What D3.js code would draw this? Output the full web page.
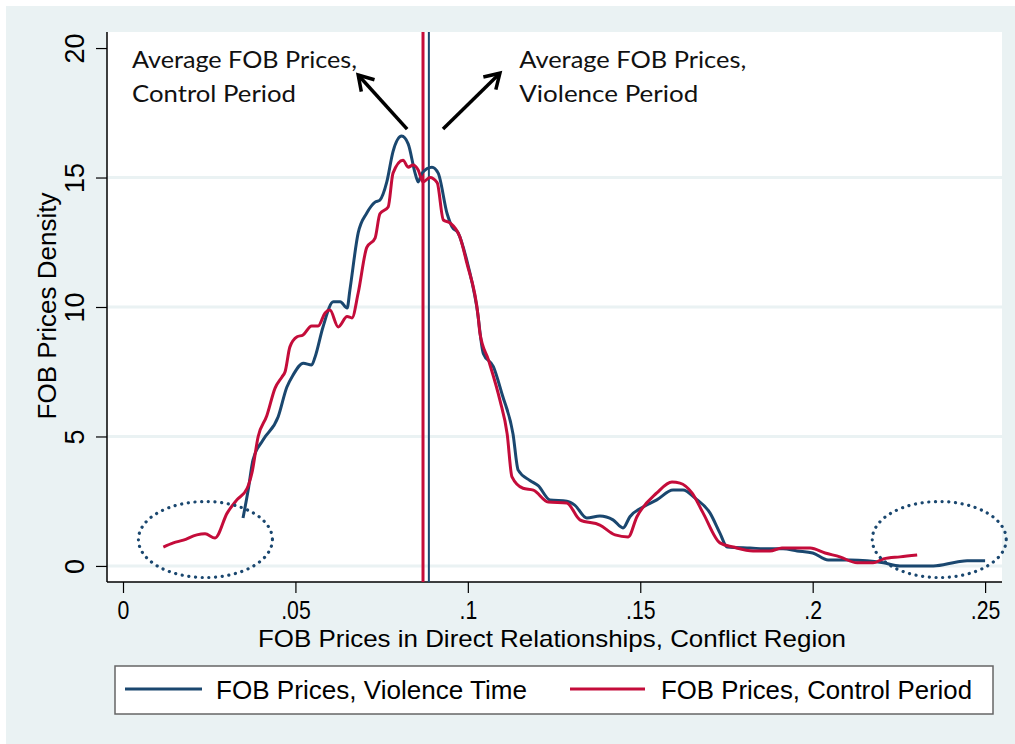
<!DOCTYPE html>
<meta charset="utf-8">
<head>
<script src="https://d3js.org/d3.v7.min.js"></script>
<style>
  body { margin: 0; background: #fff; }
  text { font-family: "Liberation Sans", Arial, sans-serif; fill: #000; }
  .note { font-family: Lato, "Open Sans", sans-serif; }
</style>
</head>
<body>
<div id="chart"></div>
<script>
  // kernel density of FOB prices, violence time (navy)
  const violenceX = [.0348,.0363,.0377,.0406,.045,.0475,.0493,.0523,.0547,.0557,.058,.061,.063,.065,.0658,.0682,.0707,.0731,.0745,.0765,.0783,.0808,.0827,.0847,.0856,.0867,.0896,.0914,.094,.0954,.0972,.0997,.1026,.1045,.1074,.110,.1131,.1146,.118,.1204,.1238,.1287,.131,.1345,.1383,.1421,.145,.147,.1508,.1548,.1595,.1624,.1659,.1702,.1731,.1752,.1818,.1876,.1914,.1955,.2,.2045,.2109,.2157,.2205,.2253,.235,.2418,.2448,.25];
  const violenceY = [1.85,2.93,4.1,4.86,5.76,6.9,7.37,7.83,7.76,8.07,9.23,10.2,10.2,9.96,10.66,12.86,13.63,14.05,14.13,14.83,16.0,16.6,16.3,15.17,14.83,15.17,15.4,15.17,13.6,13.1,12.86,11.8,10.0,8.2,7.7,6.6,5.1,3.7,3.3,3.1,2.55,2.5,2.35,1.85,1.93,1.78,1.47,1.9,2.28,2.55,2.93,2.93,2.62,2.05,1.27,0.73,0.69,0.66,0.66,0.58,0.5,0.23,0.23,0.2,0.12,0,0,0.15,0.2,0.2];

  // kernel density of FOB prices, control period (red)
  const controlX = [.0117,.0146,.0175,.0214,.0238,.0267,.0302,.033,.036,.0374,.0392,.0417,.0441,.0461,.047,.0484,.0505,.0522,.0547,.0566,.0586,.06,.0624,.065,.0664,.0682,.0707,.0731,.0745,.0769,.0783,.0812,.0827,.0841,.0856,.087,.089,.0911,.0929,.0948,.0977,.0997,.103,.1035,.106,.1093,.1114,.1128,.116,.119,.1233,.1287,.1325,.1383,.1427,.1465,.149,.1548,.1592,.1615,.165,.1682,.1731,.177,.1827,.1876,.1911,.1993,.2036,.2079,.2129,.2175,.2205,.2253,.2303];
  const controlY = [0.73,0.89,1.0,1.2,1.24,1.08,2.04,2.55,3.0,3.6,5.0,5.8,6.87,7.3,7.5,8.46,8.85,8.92,9.27,9.27,9.77,9.88,9.23,9.63,9.58,10.54,12.3,12.66,13.6,13.86,15.17,15.67,15.4,15.48,15.29,14.83,15.0,14.8,13.36,13.25,12.7,11.7,9.63,9.0,7.95,6.4,5.1,3.44,3.0,2.93,2.47,2.43,1.78,1.58,1.2,1.12,1.89,2.82,3.24,3.2,2.82,2.05,0.89,0.73,0.58,0.58,0.69,0.69,0.5,0.35,0.12,0.12,0.27,0.35,0.42];

  // average prices (vertical lines)
  const meanControl = 0.0870;
  const meanViolence = 0.0887;

  const xTicks = [0, .05, .1, .15, .2, .25];
  const xTickLabels = ["0", ".05", ".1", ".15", ".2", ".25"];
  const yTicks = [0, 5, 10, 15, 20];
  const yGrid = [0, 5, 10, 15];

  const legendLabels = ["FOB Prices, Violence Time", "FOB Prices, Control Period"];
  const navy = "#1a476f", red = "#c40c3a", bg = "#eaf2f3";

  const W = 1015, H = 744;
  const plot = {left: 107, top: 32, right: 1002, bottom: 582};

  const svg = d3.select("#chart").append("svg")
      .attr("width", W).attr("height", H);

  svg.append("rect").attr("x", 6).attr("y", 6)
      .attr("width", W - 6).attr("height", H - 6).attr("fill", bg);
  svg.append("rect").attr("x", plot.left).attr("y", plot.top)
      .attr("width", plot.right - plot.left).attr("height", plot.bottom - plot.top)
      .attr("fill", "#fff");

  const x = d3.scaleLinear().domain([-0.00464, 0.2549]).range([plot.left, plot.right]);
  const y = d3.scaleLinear().domain([-0.62, 20.62]).range([plot.bottom, plot.top]);

  // grid
  svg.append("g").selectAll("line").data(yGrid).join("line")
      .attr("x1", plot.left).attr("x2", plot.right)
      .attr("y1", d => y(d)).attr("y2", d => y(d))
      .attr("stroke", bg).attr("stroke-width", 3);

  // x axis
  const xAxis = svg.append("g")
      .attr("transform", `translate(0,${plot.bottom})`)
      .call(d3.axisBottom(x).tickValues(xTicks).tickSize(11)
        .tickFormat((d, i) => xTickLabels[i]));
  xAxis.select(".domain").attr("stroke", "#000").attr("stroke-width", 1.5)
      .attr("d", `M${plot.left},0H${plot.right}`);
  xAxis.selectAll(".tick line").attr("stroke", "#000").attr("stroke-width", 1.2);
  xAxis.selectAll(".tick text")
      .attr("y", 37).attr("dy", 0)
      .attr("font-size", 25).attr("font-family", "Liberation Sans, Arial")
      .attr("transform", "scale(0.85,1)");

  // y axis
  const yAxis = svg.append("g")
      .attr("transform", `translate(${plot.left},0)`)
      .call(d3.axisLeft(y).tickValues(yTicks).tickSize(11));
  yAxis.select(".domain").attr("stroke", "#000").attr("stroke-width", 1.5)
      .attr("d", `M0,${plot.top}V${plot.bottom}`);
  yAxis.selectAll(".tick line").attr("stroke", "#000").attr("stroke-width", 1.2);
  yAxis.selectAll(".tick text")
      .attr("transform", "rotate(-90)")
      .attr("x", 0).attr("y", -23).attr("dy", 0)
      .attr("text-anchor", "middle")
      .attr("font-size", 27).attr("font-family", "Liberation Sans, Arial");

  // axis titles
  svg.append("text")
      .attr("x", 552).attr("y", 647)
      .attr("text-anchor", "middle")
      .attr("font-size", 24)
      .attr("textLength", 588).attr("lengthAdjust", "spacingAndGlyphs")
      .text("FOB Prices in Direct Relationships, Conflict Region");
  svg.append("text")
      .attr("transform", "translate(56,306) rotate(-90)")
      .attr("text-anchor", "middle")
      .attr("font-size", 26)
      .text("FOB Prices Density");

  // mean lines
  svg.append("line")
      .attr("x1", x(meanControl)).attr("x2", x(meanControl))
      .attr("y1", plot.top).attr("y2", plot.bottom)
      .attr("stroke", red).attr("stroke-width", 3);
  svg.append("line")
      .attr("x1", x(meanViolence)).attr("x2", x(meanViolence))
      .attr("y1", plot.top).attr("y2", plot.bottom)
      .attr("stroke", navy).attr("stroke-width", 2);

  // density curves
  const line = d3.line().x(d => x(d[0])).y(d => y(d[1])).curve(d3.curveMonotoneX);
  const violence = violenceX.map((v, i) => [v, violenceY[i]]);
  const control = controlX.map((v, i) => [v, controlY[i]]);

  svg.append("path").datum(violence).attr("d", line)
      .attr("fill", "none").attr("stroke", navy).attr("stroke-width", 3)
      .attr("stroke-linejoin", "round");
  svg.append("path").datum(control).attr("d", line)
      .attr("fill", "none").attr("stroke", red).attr("stroke-width", 3)
      .attr("stroke-linejoin", "round");

  // dotted ellipses around the tails
  const ellipses = [{cx: 0.0239, cy: 1.02}, {cx: 0.2367, cy: 1.02}];
  svg.append("g").selectAll("ellipse").data(ellipses).join("ellipse")
      .attr("cx", d => x(d.cx)).attr("cy", d => y(d.cy))
      .attr("rx", 67).attr("ry", 38)
      .attr("fill", "none").attr("stroke", navy).attr("stroke-width", 3.2)
      .attr("stroke-dasharray", "0.1 6.6").attr("stroke-linecap", "round");

  // annotations
  const notes = [
    {x: 0.0026, lines: ["Average FOB Prices,", "Control Period"], w: [225, 164]},
    {x: 0.1149, lines: ["Average FOB Prices,", "Violence Period"], w: [227, 179]}
  ];
  notes.forEach(n => {
    n.lines.forEach((t, i) => {
      svg.append("text").attr("class", "note")
          .attr("x", x(n.x)).attr("y", 68 + i * 34)
          .attr("font-size", 24)
          .attr("textLength", n.w[i]).attr("lengthAdjust", "spacingAndGlyphs")
          .style("fill", "#111")
          .text(t);
    });
  });

  const arrows = [
    {from: [0.0824, 16.87], to: [0.0682, 18.96]},
    {from: [0.0928, 16.87], to: [0.1093, 19.03]}
  ];
  arrows.forEach(a => {
    const x1 = x(a.from[0]), y1 = y(a.from[1]), x2 = x(a.to[0]), y2 = y(a.to[1]);
    const ang = Math.atan2(y2 - y1, x2 - x1), L = 17, spread = 0.55;
    svg.append("line").attr("x1", x1).attr("y1", y1).attr("x2", x2).attr("y2", y2)
        .attr("stroke", "#000").attr("stroke-width", 3.5);
    svg.append("path")
        .attr("d", `M${x2 - L * Math.cos(ang - spread)},${y2 - L * Math.sin(ang - spread)}L${x2},${y2}L${x2 - L * Math.cos(ang + spread)},${y2 - L * Math.sin(ang + spread)}`)
        .attr("fill", "none").attr("stroke", "#000").attr("stroke-width", 3.5)
        .attr("stroke-linejoin", "miter");
  });

  // legend
  svg.append("rect").attr("x", 115).attr("y", 666).attr("width", 878).attr("height", 48)
      .attr("fill", "#fff").attr("stroke", "#666").attr("stroke-width", 1.5);
  const legendItems = [
    {color: navy, x1: 125, x2: 202, tx: 216, label: legendLabels[0]},
    {color: red, x1: 570, x2: 645, tx: 661, label: legendLabels[1]}
  ];
  legendItems.forEach(d => {
    svg.append("line").attr("x1", d.x1).attr("x2", d.x2).attr("y1", 689).attr("y2", 689)
        .attr("stroke", d.color).attr("stroke-width", 3);
    svg.append("text").attr("x", d.tx).attr("y", 699)
        .attr("font-size", 25)
        .attr("textLength", 311).attr("lengthAdjust", "spacingAndGlyphs")
        .text(d.label);
  });
</script>
</body>
